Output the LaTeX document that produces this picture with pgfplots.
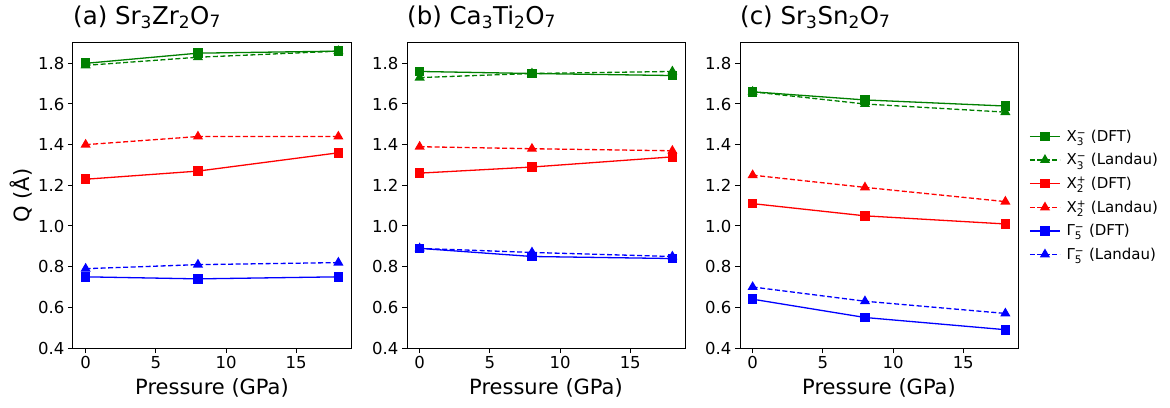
\documentclass[border=0pt]{standalone}
\usepackage{fontspec}
\setmainfont{DejaVu Sans}
\usepackage{pgfplots}
\usepackage{pgfplotstable}
\pgfplotsset{compat=1.18}
\definecolor{mgreen}{RGB}{0,128,0}
\definecolor{mred}{RGB}{255,0,0}
\definecolor{mblue}{RGB}{0,0,255}

\pgfplotstableread{
P x3d x3l x2d x2l g5d g5l
0 1.80 1.79 1.23 1.40 0.75 0.79
8 1.85 1.83 1.27 1.44 0.74 0.81
18 1.86 1.86 1.36 1.44 0.75 0.82
}\dataA
\pgfplotstableread{
P x3d x3l x2d x2l g5d g5l
0 1.76 1.73 1.26 1.39 0.89 0.89
8 1.75 1.75 1.29 1.38 0.85 0.87
18 1.74 1.76 1.34 1.37 0.84 0.85
}\dataB
\pgfplotstableread{
P x3d x3l x2d x2l g5d g5l
0 1.66 1.66 1.11 1.25 0.64 0.70
8 1.62 1.60 1.05 1.19 0.55 0.63
18 1.59 1.56 1.01 1.12 0.49 0.57
}\dataC

\newcommand{\subsup}[2]{$_{\mbox{\fontsize{10.5}{10.5}\selectfont #1}}^{\mbox{\fontsize{10.5}{10.5}\selectfont #2}}$}
\newcommand{\tsub}[1]{$_{\mbox{\fontsize{17}{17}\selectfont #1}}$}

\pgfplotsset{
 panel/.style={
  scale only axis, width=278pt, height=305pt,
  xmin=-0.9, xmax=18.9, ymin=0.4, ymax=1.9,
  xtick={0,5,10,15}, ytick={0.4,0.6,0.8,1.0,1.2,1.4,1.6,1.8},
  tick pos=left, tick align=outside, major tick length=5pt,
  axis line style={line width=1pt},
  tick style={line width=1pt, black},
  tick label style={font=\fontsize{16.5}{16.5}\selectfont},
  /pgf/number format/assume math mode=true,
  yticklabel style={/pgf/number format/.cd, fixed, fixed zerofill, precision=1},
  xlabel={Pressure (GPa)},
  xlabel style={font=\fontsize{21}{21}\selectfont, at={(axis description cs:0.5,-0.154)}, anchor=base, inner sep=0pt},
  title style={font=\fontsize{24.5}{24.5}\selectfont, at={(axis description cs:0,1.0426)}, anchor=base west, inner sep=0pt},
  clip=false,
 },
 dft/.style={solid, line width=1.3pt, mark=square*, mark size=4.2pt},
 lan/.style={dash pattern=on 5pt off 2.5pt, line width=1.3pt, mark=triangle*, mark size=4.6pt, mark options={solid}},
}

\begin{document}
\begin{tikzpicture}
\path[use as bounding box] (0,0) rectangle (1170pt,407pt);

\begin{axis}[panel, at={(73pt,59pt)}, anchor=south west,
  title={(a) Sr\tsub{3}Zr\tsub{2}O\tsub{7}},
  ylabel={Q (Å)},
  ylabel style={font=\fontsize{21}{21}\selectfont, at={(axis description cs:-0.155,0.5)}, anchor=base, inner sep=0pt}]
\addplot[dft, mgreen] table[x=P,y=x3d] {\dataA};
\addplot[lan, mgreen] table[x=P,y=x3l] {\dataA};
\addplot[dft, mred] table[x=P,y=x2d] {\dataA};
\addplot[lan, mred] table[x=P,y=x2l] {\dataA};
\addplot[dft, mblue] table[x=P,y=g5d] {\dataA};
\addplot[lan, mblue] table[x=P,y=g5l] {\dataA};
\end{axis}

\begin{axis}[panel, at={(407pt,59pt)}, anchor=south west,
  title={(b) Ca\tsub{3}Ti\tsub{2}O\tsub{7}}]
\addplot[dft, mgreen] table[x=P,y=x3d] {\dataB};
\addplot[lan, mgreen] table[x=P,y=x3l] {\dataB};
\addplot[dft, mred] table[x=P,y=x2d] {\dataB};
\addplot[lan, mred] table[x=P,y=x2l] {\dataB};
\addplot[dft, mblue] table[x=P,y=g5d] {\dataB};
\addplot[lan, mblue] table[x=P,y=g5l] {\dataB};
\end{axis}

\begin{axis}[panel, at={(740pt,59pt)}, anchor=south west,
  title={(c) Sr\tsub{3}Sn\tsub{2}O\tsub{7}},
  legend style={draw=none, fill=none, inner sep=0pt, at={(axis description cs:1.04,0.5)}, anchor=west,
    font=\fontsize{15}{15}\selectfont, row sep=6.5pt, cells={anchor=west},
    /tikz/every odd column/.append style={column sep=4pt}},
  legend image code/.code={\draw[mark repeat=2,mark phase=2] plot coordinates {(0pt,0pt) (15pt,0pt) (30pt,0pt)};}]
\addplot[dft, mgreen] table[x=P,y=x3d] {\dataC};
\addlegendentry{X\subsup{3}{−} (DFT)}
\addplot[lan, mgreen] table[x=P,y=x3l] {\dataC};
\addlegendentry{X\subsup{3}{−} (Landau)}
\addplot[dft, mred] table[x=P,y=x2d] {\dataC};
\addlegendentry{X\subsup{2}{+} (DFT)}
\addplot[lan, mred] table[x=P,y=x2l] {\dataC};
\addlegendentry{X\subsup{2}{+} (Landau)}
\addplot[dft, mblue] table[x=P,y=g5d] {\dataC};
\addlegendentry{Γ\subsup{5}{−} (DFT)}
\addplot[lan, mblue] table[x=P,y=g5l] {\dataC};
\addlegendentry{Γ\subsup{5}{−} (Landau)}
\end{axis}
\end{tikzpicture}
\end{document}
